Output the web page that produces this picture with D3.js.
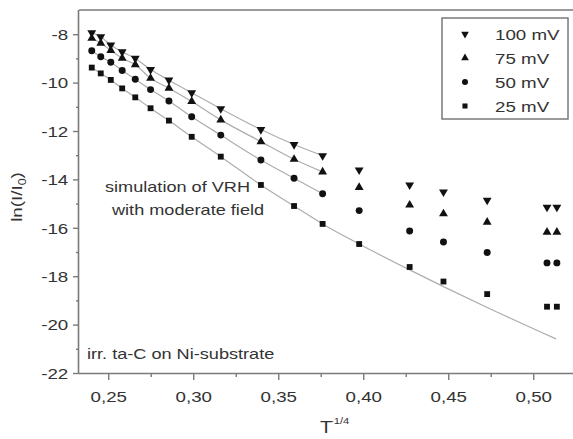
<!DOCTYPE html>
<html><head><meta charset="utf-8">
<script src="https://cdn.jsdelivr.net/npm/d3@7"></script>
<style>
html,body{margin:0;padding:0;background:#fff;}
svg{display:block;}
text{font-family:"Liberation Sans",Arial,sans-serif;fill:#333;}
</style></head>
<body>
<script>
// ---- data ----
const tInv = [0.2403,0.2456,0.2515,0.2582,0.2659,0.2749,0.2857,0.2991,0.3162,0.3398,0.3593,0.3761,0.3976,0.4273,0.4472,0.4729,0.5081,0.5139];
const y100 = [-7.94,-8.11,-8.45,-8.73,-9.00,-9.46,-9.90,-10.42,-11.08,-11.94,-12.56,-13.02,-13.61,-14.23,-14.52,-14.86,-15.15,-15.15];
const y75  = [-8.17,-8.37,-8.67,-8.99,-9.26,-9.82,-10.23,-10.78,-11.54,-12.44,-13.17,-13.69,-14.33,-15.06,-15.42,-15.77,-16.18,-16.18];
const y50  = [-8.68,-8.93,-9.16,-9.50,-9.86,-10.29,-10.76,-11.41,-12.17,-13.20,-13.95,-14.59,-15.29,-16.13,-16.59,-17.02,-17.45,-17.45];
const y25  = [-9.38,-9.62,-9.89,-10.24,-10.61,-11.06,-11.57,-12.24,-13.06,-14.23,-15.10,-15.84,-16.67,-17.62,-18.22,-18.74,-19.26,-19.26];
const seriesNames = ["100 mV","75 mV","50 mV","25 mV"];

// simulation (VRH) curves
const simXShort = [0.2403,0.2456,0.2515,0.2582,0.2659,0.2749,0.2857,0.2991,0.3162,0.3398,0.3593,0.3761];
const sim100 = [-7.94,-8.11,-8.45,-8.73,-9.00,-9.46,-9.90,-10.42,-11.08,-11.94,-12.56,-13.02];
const sim75  = [-8.17,-8.37,-8.67,-8.99,-9.26,-9.82,-10.23,-10.78,-11.54,-12.44,-13.17,-13.69];
const sim50  = [-8.68,-8.93,-9.16,-9.50,-9.86,-10.29,-10.76,-11.41,-12.17,-13.20,-13.95,-14.59];
const simXLong = [0.2403,0.2456,0.2515,0.2582,0.2659,0.2749,0.2857,0.2991,0.3162,0.3398,0.3593,0.3761,0.3976,0.4273,0.4472,0.4729,0.5134];
const sim25  = [-9.38,-9.62,-9.89,-10.24,-10.61,-11.06,-11.57,-12.24,-13.06,-14.23,-15.10,-15.84,-16.67,-17.74,-18.43,-19.29,-20.59];

const xTicks = [0.25,0.30,0.35,0.40,0.45,0.50];
const xMinor = [0.275,0.325,0.375,0.425,0.475];
const yTicks = [-8,-10,-12,-14,-16,-18,-20,-22];
const yMinor = [-9,-11,-13,-15,-17,-19,-21];

// ---- layout ----
const W = 573, H = 439;
const L = 79, T = 10, B = 373;
const SX = 1.25; // horizontal text stretch

const svg = d3.select("body").append("svg").attr("width", W).attr("height", H);

const x = d3.scaleLinear().domain([0.2328, 0.53]).range([L, L + (0.53 - 0.2328) * 1700]);
const y = d3.scaleLinear().domain([-22, -7]).range([B, T]);

const axisColor = "#7a7a7a";

// top frame line
svg.append("line").attr("x1", L).attr("x2", W + 5).attr("y1", T).attr("y2", T)
  .attr("stroke", axisColor).attr("stroke-width", 1.6);

// bottom axis
const gx = svg.append("g").attr("transform", `translate(0,${B})`)
  .call(d3.axisBottom(x).tickValues(xTicks).tickSize(7).tickSizeOuter(0)
        .tickFormat(d => d3.format(".2f")(d).replace(".", ",")));
svg.append("g").attr("transform", `translate(0,${B})`)
  .call(d3.axisBottom(x).tickValues(xMinor).tickSize(4).tickFormat(""))
  .select(".domain").remove();
gx.select(".domain").attr("stroke", axisColor).attr("stroke-width", 1.6)
  .attr("d", `M${L},0.5H${W + 5}`);
gx.selectAll("text").attr("y", 29).attr("dy", 0).attr("font-size", 15)
  .attr("transform", `scale(${SX},1)`).style("fill", "#333");

// left axis
const gy = svg.append("g").attr("transform", `translate(${L},0)`)
  .call(d3.axisLeft(y).tickValues(yTicks).tickSize(6).tickSizeOuter(0).tickFormat(d3.format("d")));
svg.append("g").attr("transform", `translate(${L},0)`)
  .call(d3.axisLeft(y).tickValues(yMinor).tickSize(3).tickFormat(""))
  .select(".domain").remove();
gy.select(".domain").attr("stroke", axisColor).attr("stroke-width", 1.6)
  .attr("d", `M-0.5,${T}V${B}`);
gy.selectAll("text").attr("x", -8.6).attr("dy", "0.35em").attr("font-size", 15)
  .attr("transform", `scale(${SX},1)`).style("fill", "#333")
  .text(d => d < 0 ? "-" + Math.abs(d) : d);
svg.selectAll(".tick line").attr("stroke", axisColor).attr("stroke-width", 1.4);

// simulation lines
const line = d3.line().x(d => x(d[0])).y(d => y(d[1])).curve(d3.curveMonotoneX);
const simSets = [[simXShort, sim100], [simXShort, sim75], [simXShort, sim50], [simXLong, sim25]];
simSets.forEach(([xs, ys]) => {
  svg.append("path").datum(xs.map((v, i) => [v, ys[i]]))
    .attr("d", line).attr("fill", "none").attr("stroke", "#adadad").attr("stroke-width", 1.2);
});

// markers
const markers = [
  {vals: y100, type: d3.symbolTriangle, rot: 180, size: 34},
  {vals: y75,  type: d3.symbolTriangle, rot: 0,   size: 34},
  {vals: y50,  type: d3.symbolCircle,   rot: 0,   size: 38},
  {vals: y25,  type: d3.symbolSquare,   rot: 0,   size: 34}
];
markers.forEach(m => {
  const sym = d3.symbol().type(m.type).size(m.size);
  svg.append("g").selectAll("path").data(tInv.map((t, i) => [t, m.vals[i]]))
    .join("path")
    .attr("d", sym)
    .attr("fill", "#111")
    .attr("transform", d => `translate(${x(d[0])},${y(d[1])}) rotate(${m.rot})`);
});

// text helper with horizontal stretch
function label(px, py, txt, size, anchor) {
  const g = svg.append("g").attr("transform", `translate(${px},${py}) scale(${SX},1)`);
  return g.append("text").attr("font-size", size).attr("text-anchor", anchor || "start").text(txt);
}

// legend
svg.append("rect").attr("x", 442).attr("y", 18).attr("width", 126).attr("height", 101)
  .attr("fill", "#fff").attr("stroke", axisColor).attr("stroke-width", 1.5);
const legY = [34, 58, 82, 106];
markers.forEach((m, i) => {
  svg.append("path").attr("d", d3.symbol().type(m.type).size(m.size * 0.75))
    .attr("fill", "#111")
    .attr("transform", `translate(465,${legY[i]}) rotate(${m.rot})`);
  label(495, legY[i] + 5.5, seriesNames[i], 15);
});

// annotations
label(105, 192, "simulation of VRH", 14.5);
label(112, 215, "with moderate field", 14.5);
label(87, 359, "irr. ta-C on Ni-substrate", 14.5);

// x axis title
label(326, 433, "T", 16, "middle");
svg.append("g").attr("transform", `translate(330,424) scale(${SX},1)`)
  .append("text").attr("font-size", 9).text("-1/4");

// y axis title
const yt = svg.append("g").attr("transform", `translate(22,197) rotate(-90) scale(${SX},1)`)
  .append("text").attr("font-size", 15).attr("text-anchor", "middle");
yt.append("tspan").text("ln(I/I");
yt.append("tspan").attr("font-size", 10).attr("dy", 4).text("0");
yt.append("tspan").attr("dy", -4).text(")");
</script>
</body></html>
